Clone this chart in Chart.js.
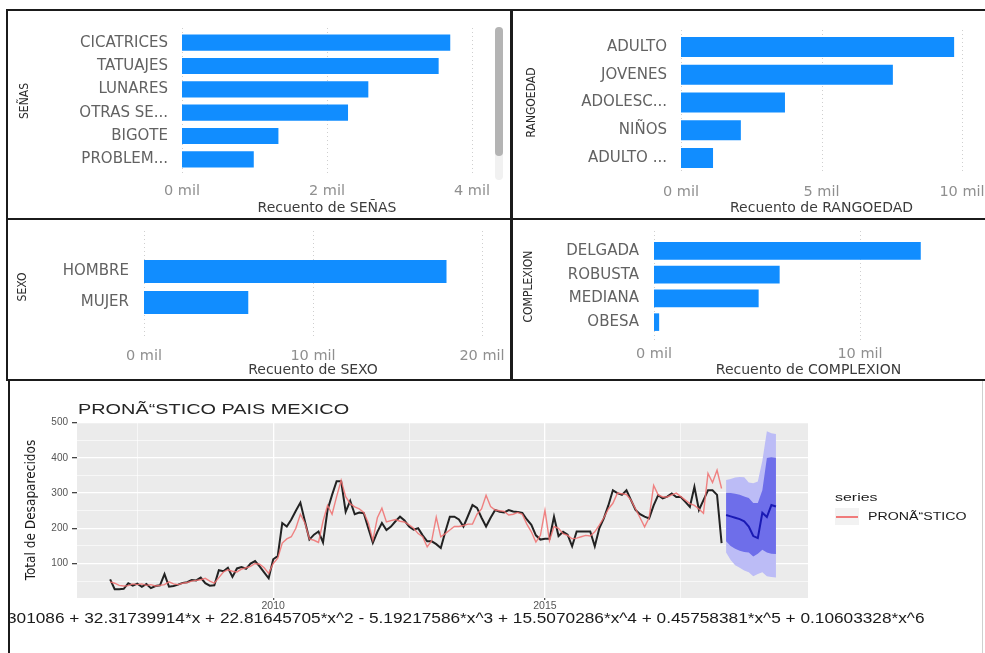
<!DOCTYPE html>
<html>
<head>
<meta charset="utf-8">
<script src="https://cdn.jsdelivr.net/npm/chart.js@4.4.1/dist/chart.umd.min.js"></script>
<style>
  body { margin: 0; background: #fff; width: 985px; height: 653px; overflow: hidden; position: relative; }
  canvas { position: absolute; }
  .ln { position: absolute; background: #1b1b1b; z-index: 5; }
  .gg { position: absolute; left: 10px; top: 381px; width: 972px; height: 272px; overflow: hidden; }
  .txt { position: absolute; white-space: nowrap; transform-origin: left center; font-family: 'Liberation Sans', Arial, sans-serif; line-height: 16px; }
</style>
</head>
<body>

<canvas id="senasChart" width="502" height="206" style="left:8px;top:11px"></canvas>
<canvas id="rangoChart" width="472" height="206" style="left:513px;top:11px"></canvas>
<canvas id="sexoChart" width="502" height="159" style="left:8px;top:220px"></canvas>
<canvas id="complexChart" width="472" height="159" style="left:513px;top:220px"></canvas>
<canvas id="pronosticoChart" width="972" height="272" style="left:10px;top:381px"></canvas>

<!-- scroll bar of the SEÑAS visual -->
<div style="position:absolute;left:495px;top:27px;width:8px;height:153px;background:#f1f1f1;border-radius:4px"></div>
<div style="position:absolute;left:495px;top:27px;width:8px;height:129px;background:#b4b4b4;border-radius:4px"></div>

<!-- panel borders -->
<div class="ln" style="left:6px;top:9px;width:979px;height:2px"></div>
<div class="ln" style="left:6px;top:9px;width:2px;height:372px"></div>
<div class="ln" style="left:510px;top:9px;width:3px;height:372px"></div>
<div class="ln" style="left:6px;top:218px;width:979px;height:2px"></div>
<div class="ln" style="left:6px;top:379px;width:979px;height:2px"></div>
<div class="ln" style="left:8px;top:379px;width:2px;height:274px"></div>
<div class="ln" style="left:982px;top:381px;width:1px;height:272px;background:#cfcfcf"></div>

<!-- ggplot texts -->
<div class="gg">
  <div class="txt" style="left:68px;top:20px;font-size:14.5px;color:#262626;transform:scaleX(1.37)">PRONÃ“STICO PAIS MEXICO</div>
  <div class="txt" style="left:-3px;top:229px;font-size:14px;color:#1a1a1a;transform:scaleX(1.232)">301086 + 32.31739914*x + 22.81645705*x^2 - 5.19217586*x^3 + 15.5070286*x^4 + 0.45758381*x^5 + 0.10603328*x^6</div>
  <div class="txt" style="left:825px;top:108px;font-size:11px;color:#1a1a1a;transform:scaleX(1.45)">series</div>
  <div style="position:absolute;left:825px;top:127px;width:24px;height:17px;background:#f2f2f2"></div>
  <div style="position:absolute;left:826px;top:135px;width:22px;height:1.5px;background:rgba(240,110,110,0.9)"></div>
  <div class="txt" style="left:858px;top:128px;font-size:10px;color:#1a1a1a;transform:scaleX(1.42)">PRONÃ“STICO</div>
</div>

<script>
// Recuento por categoria
const senasLabels = ["CICATRICES", "TATUAJES", "LUNARES", "OTRAS SE...", "BIGOTE", "PROBLEM..."];
const senasValues = [3700, 3540, 2570, 2290, 1330, 990];
const senasTicks = [0, 2000, 4000];

const rangoLabels = ["ADULTO", "JOVENES", "ADOLESC...", "NIÑOS", "ADULTO ..."];
const rangoValues = [9720, 7540, 3700, 2130, 1140];
const rangoTicks = [0, 5000, 10000];

const sexoLabels = ["HOMBRE", "MUJER"];
const sexoValues = [17900, 6170];
const sexoTicks = [0, 10000, 20000];

const complexLabels = ["DELGADA", "ROBUSTA", "MEDIANA", "OBESA"];
const complexValues = [12950, 6100, 5080, 250];
const complexTicks = [0, 10000];

// Serie mensual de desaparecidos, enero 2007 - abril 2018
const startYear = 2007;
const actual = [
  55, 27, 27, 28, 44, 37, 43, 34, 42, 30, 36, 38,
  70, 34, 36, 40, 45, 47, 53, 52, 60, 44, 37, 38,
  81, 78, 88, 62, 86, 90, 85, 100, 107, 92, 75, 58,
  112, 121, 215, 205, 225, 250, 273, 220, 168, 182, 191, 160,
  252, 295, 334, 334, 247, 278, 240, 245, 243, 200, 159, 190,
  215, 195, 205, 220, 233, 222, 205, 196, 200, 180, 163, 163,
  155, 144, 190, 233, 233, 225, 205, 235, 266, 258, 230, 205,
  230, 252, 247, 245, 252, 248, 246, 244, 225, 210, 180, 168,
  170, 170, 233, 178, 190, 182, 149, 191, 191, 191, 191, 149,
  200, 228, 265, 308, 300, 295, 308, 280, 252, 240, 233, 228,
  265, 294, 285, 290, 299, 289, 289, 275, 261, 318, 252, 280,
  308, 308, 295, 158
];
// valores ajustados (linea roja)
const fitted = [
  48, 44, 38, 36, 37, 42, 40, 42, 38, 40, 36, 38,
  40, 48, 42, 40, 44, 46, 50, 52, 54, 58, 50, 44,
  60, 76, 82, 78, 76, 84, 88, 92, 100, 98, 88, 72,
  100, 115, 158, 170, 176, 200, 240, 215, 170, 166, 160, 220,
  265, 240, 290, 336, 290, 270, 261, 255, 245, 215, 166, 230,
  257, 218, 222, 225, 220, 218, 210, 200, 185, 176, 147, 165,
  232, 176, 185, 195, 205, 205, 208, 212, 212, 240, 255, 294,
  262, 252, 250, 248, 238, 240, 245, 240, 212, 190, 161, 180,
  251, 165, 205, 200, 185, 180, 170, 172, 176, 180, 178, 190,
  209, 230, 255, 271, 300, 298, 296, 280, 255, 230, 204, 230,
  322, 295, 289, 289, 295, 300, 290, 280, 270, 265, 255, 243,
  356, 330, 365, 313
];
// pronostico mayo 2018 - abril 2019
const fcMean = [238, 234, 230, 226, 220, 205, 178, 172, 244, 232, 266, 262];
const fcHi80 = [300, 300, 298, 295, 290, 286, 272, 272, 308, 400, 402, 400];
const fcLo80 = [163, 150, 142, 136, 133, 131, 120, 128, 139, 131, 128, 127];
const fcHi95 = [337, 340, 344, 346, 345, 330, 328, 333, 392, 476, 470, 468];
const fcLo95 = [131, 110, 95, 88, 80, 75, 64, 70, 75, 64, 62, 60];

const yBreaks = [50, 100, 150, 200, 250, 300, 350, 400, 450, 500];
const xBreaks = [2007.5, 2010, 2012.5, 2015, 2017.5];

const uiFont = "'DejaVu Sans', 'Open Sans', sans-serif";
const narrowFont = "'Liberation Sans Narrow', 'DejaVu Sans Condensed', sans-serif";

// lineas punteadas verticales del eje de valores
const dottedGrid = {
  id: "dottedGrid",
  beforeDatasetsDraw(chart, args, opts) {
    const ctx = chart.ctx;
    const xs = chart.scales.x;
    ctx.save();
    ctx.strokeStyle = "#cfcfcf";
    ctx.lineWidth = 1;
    ctx.setLineDash([1, 3]);
    xs.ticks.forEach((t) => {
      const px = Math.round(xs.getPixelForValue(t.value)) + 0.5;
      ctx.beginPath();
      ctx.moveTo(px, opts.top);
      ctx.lineTo(px, opts.bottom);
      ctx.stroke();
    });
    ctx.restore();
  },
};

function barChart(id, labels, values, ticks, o) {
  return new Chart(document.getElementById(id), {
    type: "bar",
    data: {
      labels: labels,
      datasets: [
        {
          data: values,
          backgroundColor: "#118DFF",
          barPercentage: o.barPct,
          categoryPercentage: 1,
        },
      ],
    },
    options: {
      indexAxis: "y",
      responsive: false,
      animation: false,
      events: [],
      layout: { padding: { left: 0, top: o.top, right: o.right, bottom: 0 } },
      plugins: {
        legend: { display: false },
        tooltip: { enabled: false },
        dottedGrid: { top: o.gridTop, bottom: o.gridBottom },
      },
      scales: {
        x: {
          min: 0,
          max: o.max,
          afterBuildTicks: (s) => { s.ticks = ticks.map((v) => ({ value: v })); },
          ticks: {
            padding: 0,
            color: "#8f8f8f",
            font: { family: uiFont, size: 14.5 },
            callback: (v) => v / 1000 + " mil",
          },
          // tickLength only used as offset of the labels
          grid: { display: false, drawTicks: true, tickLength: o.tickGap },
          border: { display: false },
          title: {
            display: true,
            text: o.xTitle,
            color: "#3c3c3c",
            font: { family: uiFont, size: 14 },
            padding: { top: 0, bottom: 0 },
          },
          afterFit: (s) => { s.height = o.xh; },
        },
        y: {
          ticks: { padding: 0, color: "#626262", font: { family: uiFont, size: 15 } },
          grid: { display: false, drawTicks: true, tickLength: o.labelGap },
          border: { display: false },
          title: {
            display: true,
            text: o.yTitle,
            color: "#2b2b2b",
            font: { family: narrowFont, size: 12 },
            padding: { top: o.yTitlePad, bottom: 0 },
          },
          afterFit: (s) => { s.width = o.yw; },
        },
      },
    },
    plugins: [dottedGrid],
  });
}

barChart("senasChart", senasLabels, senasValues, senasTicks, {
  barPct: 0.69, top: 20, right: 38, yw: 174, xh: 46, max: 4000,
  tickGap: 12, labelGap: 14, yTitlePad: 10, gridTop: 17, gridBottom: 164,
  xTitle: "Recuento de SEÑAS", yTitle: "SEÑAS",
});
barChart("rangoChart", rangoLabels, rangoValues, rangoTicks, {
  barPct: 0.72, top: 22, right: 23, yw: 168, xh: 45, max: 10000,
  tickGap: 12, labelGap: 14, yTitlePad: 12, gridTop: 19, gridBottom: 162,
  xTitle: "Recuento de RANGOEDAD", yTitle: "RANGOEDAD",
});
barChart("sexoChart", sexoLabels, sexoValues, sexoTicks, {
  barPct: 0.74, top: 36, right: 28, yw: 136, xh: 61, max: 20000,
  tickGap: 30, labelGap: 15, yTitlePad: 8, gridTop: 11, gridBottom: 118,
  xTitle: "Recuento de SEXO", yTitle: "SEXO",
});
barChart("complexChart", complexLabels, complexValues, complexTicks, {
  barPct: 0.74, top: 19, right: 22, yw: 141, xh: 45, max: 15000,
  tickGap: 12, labelGap: 15, yTitlePad: 9, gridTop: 11, gridBottom: 121,
  xTitle: "Recuento de COMPLEXION", yTitle: "COMPLEXION",
});

// panel gris estilo ggplot
const panelBg = {
  id: "panelBg",
  beforeDraw(chart) {
    const { ctx, chartArea: a } = chart;
    ctx.save();
    ctx.fillStyle = "#EBEBEB";
    ctx.fillRect(a.left, a.top, a.right - a.left, a.bottom - a.top);
    ctx.restore();
  },
};

const toPoints = (arr, offset) => arr.map((v, i) => ({ x: startYear + (offset + i) / 12, y: v }));
const fcOffset = actual.length;

new Chart(document.getElementById("pronosticoChart"), {
  type: "line",
  data: {
    datasets: [
      { data: toPoints(fcLo95, fcOffset), borderWidth: 0, pointRadius: 0, fill: false, order: 10 },
      { data: toPoints(fcHi95, fcOffset), borderWidth: 0, pointRadius: 0, fill: { target: 0 }, backgroundColor: "rgba(188,188,246,1)", order: 9 },
      { data: toPoints(fcLo80, fcOffset), borderWidth: 0, pointRadius: 0, fill: false, order: 8 },
      { data: toPoints(fcHi80, fcOffset), borderWidth: 0, pointRadius: 0, fill: { target: 2 }, backgroundColor: "rgba(110,110,234,1)", order: 7 },
      { data: toPoints(fcMean, fcOffset), borderColor: "#1a1ab4", borderWidth: 2, pointRadius: 0, order: 3 },
      { data: toPoints(actual, 0), borderColor: "#222222", borderWidth: 2, pointRadius: 0, order: 2 },
      { data: toPoints(fitted, 0), borderColor: "rgba(240,110,110,0.85)", borderWidth: 1.4, pointRadius: 0, order: 1 },
    ],
  },
  options: {
    responsive: false,
    animation: false,
    events: [],
    elements: { line: { tension: 0 } },
    layout: { padding: { left: 0, top: 41, right: 174, bottom: 0 } },
    plugins: { legend: { display: false }, tooltip: { enabled: false } },
    scales: {
      x: {
        type: "linear",
        min: 2006.39,
        max: 2019.84,
        afterBuildTicks: (s) => { s.ticks = xBreaks.map((v) => ({ value: v })); },
        ticks: {
          autoSkip: false,
          maxRotation: 0,
          padding: 0,
          color: "#555",
          font: { family: "'Liberation Sans', Arial, sans-serif", size: 10.5 },
          callback: (v) => (v % 5 === 0 ? String(v) : ""),
        },
        grid: {
          color: "#ffffff",
          lineWidth: (c) => (c.tick && c.tick.value % 5 === 0 ? 1.3 : 0.6),
          tickLength: 2,
          tickColor: (c) => (c.tick && c.tick.value % 5 === 0 ? "#555" : "rgba(0,0,0,0)"),
        },
        border: { display: false },
        afterFit: (s) => { s.height = 55; },
      },
      y: {
        min: 2,
        max: 502,
        afterBuildTicks: (s) => { s.ticks = yBreaks.map((v) => ({ value: v })); },
        ticks: {
          padding: 4,
          color: "#555",
          font: { family: "'Liberation Sans', Arial, sans-serif", size: 10 },
          callback: (v) => (v % 100 === 0 ? String(v) : ""),
        },
        grid: {
          color: "#ffffff",
          lineWidth: (c) => (c.tick && c.tick.value % 100 === 0 ? 1.3 : 0.6),
          tickLength: 5,
          tickColor: (c) => (c.tick && c.tick.value % 100 === 0 ? "#444" : "rgba(0,0,0,0)"),
        },
        border: { display: false },
        title: {
          display: true,
          text: "Total de Desaparecidos",
          color: "#1a1a1a",
          font: { family: narrowFont, size: 13.5 },
          padding: { top: 13, bottom: 0 },
        },
        afterFit: (s) => { s.width = 67; },
      },
    },
  },
  plugins: [panelBg],
});
</script>
</body>
</html>
